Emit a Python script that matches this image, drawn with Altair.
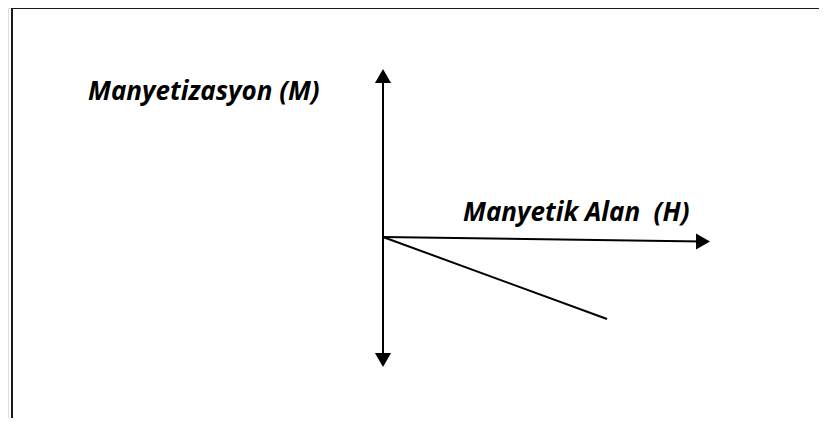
import altair as alt
import pandas as pd

# Diagram coordinates: H (field) horizontally, M (magnetization) vertically, origin at the axes' crossing
seg_names = ["M axis", "H axis", "Diamagnetic M(H)"]
seg_h0 = [0, 0, 0]
seg_m0 = [-124, 0, 0]
seg_h1 = [0, 319, 224]
seg_m1 = [162, -4.5, -82]

arrow_names = ["M up", "M down", "H right"]
arrow_h = [0, 0, 320]
arrow_m = [161, -123, -4.5]
arrow_shapes = ["triangle-up", "triangle-down", "triangle-right"]

label_texts = ["Manyetizasyon (M)", "Manyetik Alan\u00a0 (H)"]
label_h = [-295, 80]
label_m = [145, 24]

frame_h0 = [-371, -371]
frame_m0 = [-181, 229]
frame_h1 = [-371, 436]
frame_m1 = [229, 229]

segs = pd.DataFrame({"name": seg_names, "h": seg_h0, "m": seg_m0, "h2": seg_h1, "m2": seg_m1})
arrows = pd.DataFrame({"name": arrow_names, "h": arrow_h, "m": arrow_m, "shape": arrow_shapes})
labels = pd.DataFrame({"text": label_texts, "h": label_h, "m": label_m})
frame = pd.DataFrame({"h": frame_h0, "m": frame_m0, "h2": frame_h1, "m2": frame_m1})

xs = alt.Scale(domain=[-375, 436], nice=False, zero=False)
ys = alt.Scale(domain=[-181, 229], nice=False, zero=False)

X = alt.X("h:Q", scale=xs, axis=None)
Y = alt.Y("m:Q", scale=ys, axis=None)

frame_layer = alt.Chart(frame).mark_rule(color="#1a1a1a", strokeWidth=2).encode(
    x=X, y=Y, x2="h2:Q", y2="m2:Q"
)

seg_layer = alt.Chart(segs).mark_rule(color="#000000", strokeWidth=2).encode(
    x=X, y=Y, x2="h2:Q", y2="m2:Q"
)

arrow_layer = alt.Chart(arrows).mark_point(filled=True, opacity=1, color="#000000", size=260).encode(
    x=X, y=Y, shape=alt.Shape("shape:N", scale=None, legend=None)
)

label_layer = alt.Chart(labels).mark_text(
    align="left", baseline="middle", font="Open Sans", fontSize=26,
    fontStyle="italic", fontWeight="bold", color="#000000"
).encode(x=X, y=Y, text="text:N")

chart = alt.layer(frame_layer, seg_layer, arrow_layer, label_layer).properties(
    width=811, height=410, padding=0, autosize=alt.AutoSizeParams(type="none")
).configure_view(stroke=None).configure(background="white")

chart.save("out.html", embed_options={"renderer": "svg", "actions": False})
